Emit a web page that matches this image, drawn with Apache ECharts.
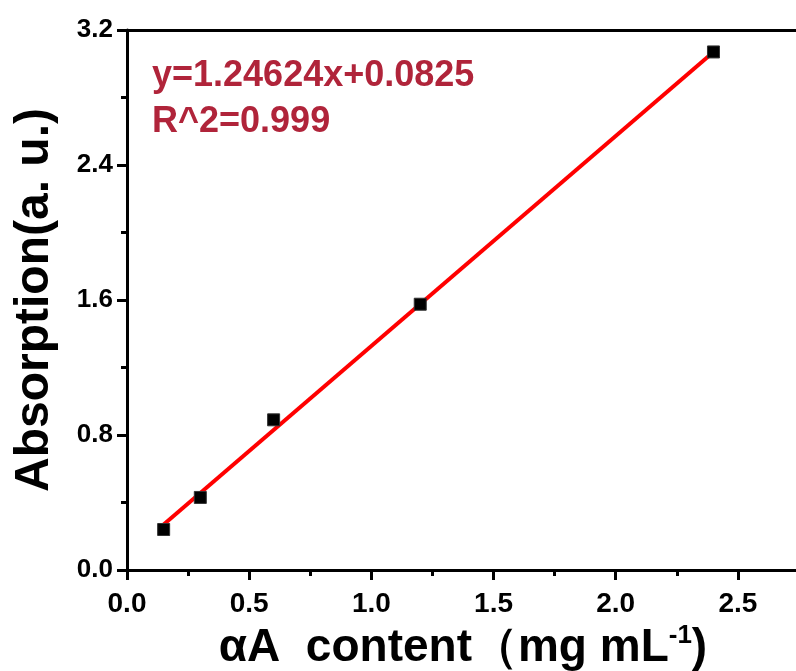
<!DOCTYPE html>
<html>
<head>
<meta charset="utf-8">
<script src="https://cdn.jsdelivr.net/npm/echarts@6/dist/echarts.min.js"></script>
<style>
  html, body { margin: 0; padding: 0; background: #fff; }
  #chart { width: 796px; height: 671px; }
</style>
</head>
<body>
<div id="chart"></div>
<script>
// measured points (concentration, absorption)
const concX = [0.15, 0.3, 0.6, 1.2, 2.4];
const absY = [0.24, 0.43, 0.89, 1.575, 3.07];
// linear fit drawn between first and last concentration
const fitX = [0.15, 2.4];
const fitY = [0.27, 3.07];
const fitLabel = ['y=1.24624x+0.0825', 'R^2=0.999'];

const chart = echarts.init(document.getElementById('chart'));
const font = '"Liberation Sans", Arial, sans-serif';
const axisLine = { show: true, lineStyle: { color: '#000', width: 3 } };

const option = {
    animation: false,
    grid: { left: 127, top: 30, width: 672, height: 540, containLabel: false, outerBoundsMode: 'none' },
    xAxis: [{
        type: 'value',
        min: 0, max: 2.75, interval: 0.5,
        position: 'bottom',
        axisLine: axisLine,
        axisTick: { show: true, inside: false, length: 10, lineStyle: { width: 3, color: '#000' } },
        minorTick: { show: true, splitNumber: 2, length: 6, lineStyle: { width: 3, color: '#000' } },
        splitLine: { show: false },
        axisLabel: {
            color: '#000', fontFamily: font, fontWeight: 'bold', fontSize: 28, margin: 20,
            formatter: v => (v > 2.6 ? '' : v.toFixed(1))
        },
        name: '{a|αA  content（mg mL}{s|-1}{a|)}',
        nameLocation: 'middle',
        nameGap: 50,
        nameTextStyle: {
            rich: {
                a: { fontFamily: font, fontWeight: 'bold', fontSize: 46, color: '#000' },
                s: { fontFamily: font, fontWeight: 'bold', fontSize: 26, color: '#000', verticalAlign: 'top', padding: [0, 0, 24, 0] }
            }
        }
    }, {
        type: 'value',
        min: 0, max: 2.75,
        position: 'top',
        axisLine: axisLine,
        axisTick: { show: false },
        axisLabel: { show: false },
        splitLine: { show: false }
    }],
    yAxis: {
        type: 'value',
        min: 0, max: 3.2, interval: 0.8,
        axisLine: axisLine,
        axisTick: { show: true, inside: false, length: 10, lineStyle: { width: 3, color: '#000' } },
        minorTick: { show: true, splitNumber: 2, length: 6, lineStyle: { width: 3, color: '#000' } },
        splitLine: { show: false },
        axisLabel: {
            color: '#000', fontFamily: font, fontWeight: 'bold', fontSize: 26, margin: 14,
            formatter: v => v.toFixed(1)
        },
        name: 'Absorption(a. u.)',
        nameLocation: 'middle',
        nameGap: 68,
        nameTextStyle: { fontFamily: font, fontWeight: 'bold', fontSize: 48, color: '#000' }
    },
    series: [{
        type: 'line',
        data: fitX.map((x, i) => [x, fitY[i]]),
        symbol: 'none',
        lineStyle: { color: '#ff0000', width: 4 },
        z: 2
    }, {
        type: 'scatter',
        data: concX.map((x, i) => [x, absY[i]]),
        symbol: 'rect',
        symbolSize: 12,
        itemStyle: { color: '#000', borderColor: '#333', borderWidth: 1, opacity: 1 },
        z: 3
    }],
    graphic: [{
        type: 'text',
        left: 152, top: 53,
        style: {
            text: fitLabel.join('\n'),
            fill: '#b0243a',
            font: 'bold 36px ' + font,
            lineHeight: 46
        }
    }]
};

chart.setOption(option);
</script>
</body>
</html>
